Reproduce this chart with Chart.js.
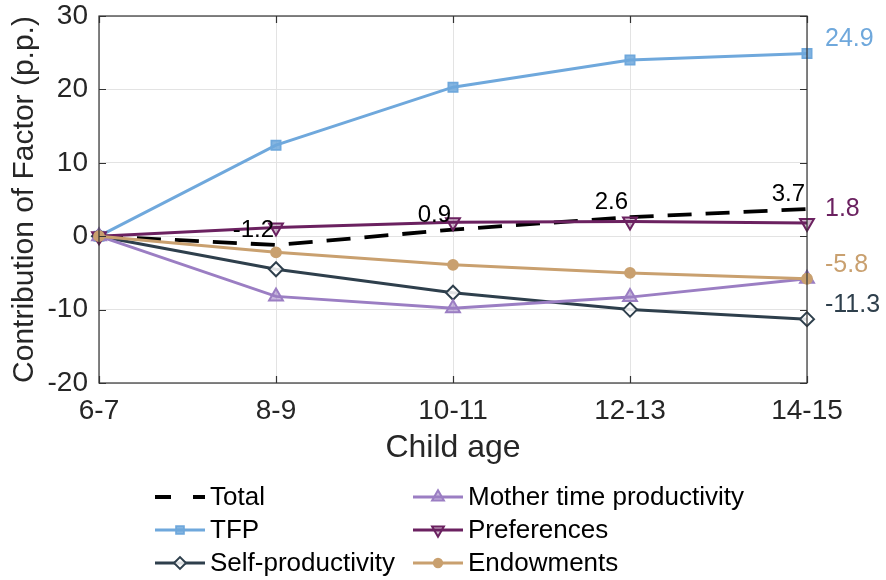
<!DOCTYPE html>
<html>
<head>
<meta charset="utf-8">
<script src="https://cdn.jsdelivr.net/npm/chart.js@4/dist/chart.umd.min.js"></script>
<style>
  html, body { margin: 0; padding: 0; background: #ffffff; }
  #wrap { width: 886px; height: 580px; position: relative; }
</style>
</head>
<body>
<div id="wrap"><canvas id="c" width="886" height="580"></canvas></div>
<script>
// Decomposition of the gap by factor, in percentage points, by child age
const ages        = ['6-7', '8-9', '10-11', '12-13', '14-15'];
const total       = [0, -1.2, 0.9, 2.6, 3.7];
const tfp         = [0, 12.4, 20.3, 24.0, 24.9];
const selfProd    = [0, -4.5, -7.7, -10.0, -11.3];
const motherTime  = [0, -8.2, -9.8, -8.3, -5.8];
const preferences = [0, 1.2, 1.9, 2.0, 1.8];
const endowments  = [0, -2.2, -3.9, -5.0, -5.8];
const yTicks      = [-20, -10, 0, 10, 20, 30];

const FONT = "'Liberation Sans', Arial, Helvetica, sans-serif";
const TEXT = '#262626';

const C = {
  total: '#000000',
  tfp: '#6FA8DC',
  self: '#2E3F4C',
  mother: '#9B7EC3',
  pref: '#6B2160',
  endow: '#C9A06F'
};

function series(label, data, color, extra) {
  return Object.assign({
    label: label,
    data: data,
    borderColor: color,
    backgroundColor: color,
    pointBorderColor: color,
    borderWidth: 3,
    pointBorderWidth: 1.8,
    tension: 0,
    clip: false
  }, extra);
}

const datasets = [
  series('Total', total, C.total, {
    borderWidth: 3.8, borderDash: [24, 14], pointRadius: 0, order: 6,
    legendDash: [16, 22], valueLabels: 'total'
  }),
  series('TFP', tfp, C.tfp, {
    pointStyle: 'rect', pointRadius: 6.5, pointBackgroundColor: 'rgba(111,168,220,0.85)',
    order: 5, endLabel: true
  }),
  series('Self-productivity', selfProd, C.self, {
    pointStyle: 'rectRot', pointRadius: 7, pointBackgroundColor: 'rgba(255,255,255,0.85)',
    pointBorderWidth: 2, order: 4, endLabel: true
  }),
  series('Mother time productivity', motherTime, C.mother, {
    pointStyle: 'triangle', pointRadius: 8, pointBackgroundColor: 'rgba(155,126,195,0.55)',
    pointBorderWidth: 2, order: 3
  }),
  series('Preferences', preferences, C.pref, {
    pointStyle: 'triangle', pointRotation: 180, pointRadius: 8,
    pointBackgroundColor: 'rgba(107,33,96,0.3)', pointBorderWidth: 2, order: 2, endLabel: true
  }),
  series('Endowments', endowments, C.endow, {
    pointStyle: 'circle', pointRadius: 5, pointBackgroundColor: C.endow, order: 1, endLabel: true
  })
];

// Axes box with inward tick marks on all four sides
const framePlugin = {
  id: 'frame',
  afterDatasetsDraw(chart) {
    const { ctx, chartArea: a, scales } = chart;
    ctx.save();
    ctx.strokeStyle = '#333333';
    ctx.lineWidth = 1.2;
    ctx.strokeRect(a.left, a.top, a.right - a.left, a.bottom - a.top);
    const tl = 7;
    ctx.beginPath();
    scales.x.ticks.forEach((t, i) => {
      const x = Math.round(scales.x.getPixelForTick(i)) + 0.5;
      ctx.moveTo(x, a.bottom); ctx.lineTo(x, a.bottom - tl);
      ctx.moveTo(x, a.top); ctx.lineTo(x, a.top + tl);
    });
    scales.y.ticks.forEach((t) => {
      const y = Math.round(scales.y.getPixelForValue(t.value)) + 0.5;
      ctx.moveTo(a.left, y); ctx.lineTo(a.left + tl, y);
      ctx.moveTo(a.right, y); ctx.lineTo(a.right - tl, y);
    });
    ctx.stroke();
    ctx.restore();
  }
};

// Value labels: totals above their points, final values to the right of the plot
const labelPlugin = {
  id: 'valueLabels',
  afterDatasetsDraw(chart) {
    const { ctx } = chart;
    ctx.save();
    chart.data.datasets.forEach((ds, di) => {
      const meta = chart.getDatasetMeta(di);
      if (ds.valueLabels === 'total') {
        ctx.font = '24px ' + FONT;
        ctx.fillStyle = '#000000';
        ctx.textAlign = 'right';
        ctx.textBaseline = 'alphabetic';
        ds.data.forEach((v, i) => {
          if (i === 0) return;
          const p = meta.data[i];
          ctx.fillText(v.toFixed(1), p.x - 2, p.y - 8);
        });
      }
      if (ds.endLabel) {
        const last = ds.data.length - 1;
        const p = meta.data[last];
        ctx.font = '25px ' + FONT;
        ctx.fillStyle = ds.borderColor;
        ctx.textAlign = 'left';
        ctx.textBaseline = 'middle';
        ctx.fillText(ds.data[last].toFixed(1), p.x + 18, p.y - 14);
      }
    });
    ctx.restore();
  }
};

// Two-column legend under the plot
const legendPlugin = {
  id: 'twoColLegend',
  afterDraw(chart) {
    const { ctx } = chart;
    const cols = [{ x0: 155, x1: 205, tx: 210 }, { x0: 413, x1: 463, tx: 468 }];
    const rows = [497, 530, 563];
    ctx.save();
    chart.data.datasets.forEach((ds, i) => {
      const col = cols[Math.floor(i / 3)];
      const y = rows[i % 3];
      ctx.strokeStyle = ds.borderColor;
      ctx.lineWidth = ds.borderWidth;
      ctx.setLineDash(ds.legendDash || []);
      ctx.beginPath();
      ctx.moveTo(col.x0, y);
      ctx.lineTo(col.x1, y);
      ctx.stroke();
      ctx.setLineDash([]);
      if (ds.pointRadius > 0 && Chart.helpers && Chart.helpers.drawPoint) {
        ctx.fillStyle = ds.pointBackgroundColor || ds.borderColor;
        ctx.strokeStyle = ds.pointBorderColor || ds.borderColor;
        ctx.lineWidth = ds.pointBorderWidth;
        Chart.helpers.drawPoint(ctx, {
          pointStyle: ds.pointStyle,
          rotation: ds.pointRotation || 0,
          radius: ds.pointRadius * 0.85,
          borderWidth: ds.pointBorderWidth
        }, (col.x0 + col.x1) / 2, y);
      }
      ctx.font = '26px ' + FONT;
      ctx.fillStyle = '#000000';
      ctx.textAlign = 'left';
      ctx.textBaseline = 'middle';
      ctx.fillText(ds.label, col.tx, y + 1);
    });
    ctx.restore();
  }
};

// Keep the plot area fixed: no extra room reserved for overhanging tick labels
function noLabelPadding(scale) {
  scale.paddingTop = 0;
  scale.paddingBottom = 0;
  scale.paddingLeft = 0;
  scale.paddingRight = 0;
}

new Chart(document.getElementById('c'), {
  type: 'line',
  data: { labels: ages, datasets: datasets },
  options: {
    responsive: false,
    animation: false,
    devicePixelRatio: 1,
    layout: { padding: { top: 16, right: 79, bottom: 107, left: 0 } },
    plugins: { legend: { display: false }, tooltip: { enabled: false } },
    scales: {
      x: {
        type: 'category',
        offset: false,
        grid: { color: '#e3e3e3', lineWidth: 1, drawTicks: false },
        border: { display: false },
        ticks: { color: TEXT, font: { family: FONT, size: 28 }, padding: 11, maxRotation: 0 },
        title: {
          display: true, text: 'Child age', color: TEXT,
          font: { family: FONT, size: 32 }, padding: { top: 0, bottom: 6 }
        },
        afterFit(scale) { scale.height = 90; noLabelPadding(scale); }
      },
      y: {
        min: -20, max: 30,
        grid: { color: '#e3e3e3', lineWidth: 1, drawTicks: false },
        border: { display: false },
        afterBuildTicks(scale) { scale.ticks = yTicks.map(v => ({ value: v })); },
        ticks: { color: TEXT, font: { family: FONT, size: 28 }, padding: 11 },
        title: {
          display: true, text: 'Contribution of Factor (p.p.)', color: TEXT,
          font: { family: FONT, size: 30 }, padding: { top: 7, bottom: 0 }
        },
        afterFit(scale) { scale.width = 99; noLabelPadding(scale); }
      }
    }
  },
  plugins: [framePlugin, labelPlugin, legendPlugin]
});
</script>
</body>
</html>
